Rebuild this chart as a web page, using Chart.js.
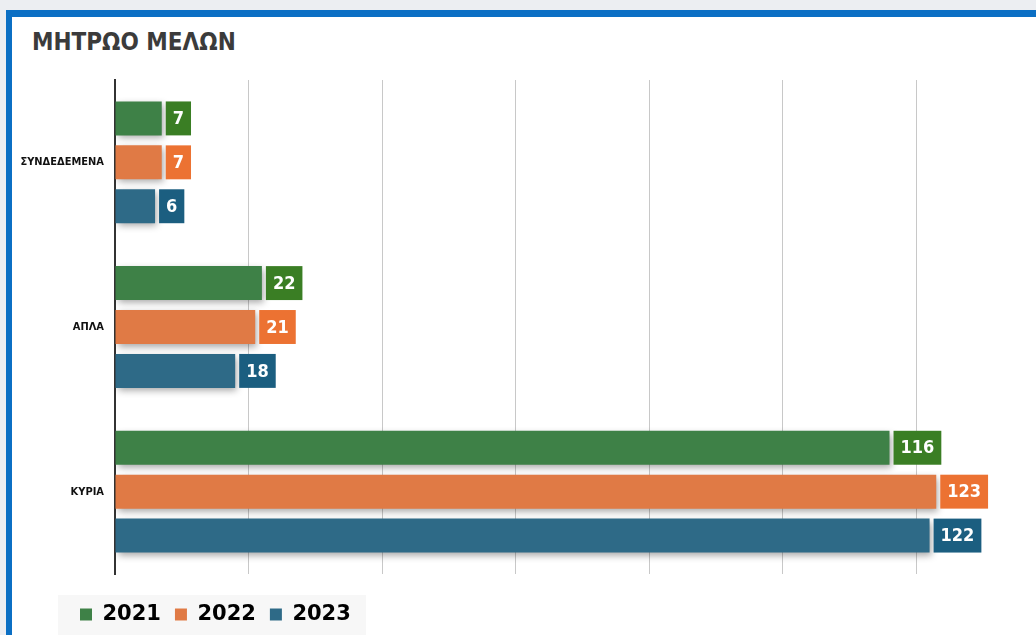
<!DOCTYPE html>
<html><head><meta charset="utf-8">
<script src="https://cdn.jsdelivr.net/npm/chart.js@4.4.0/dist/chart.umd.min.js"></script>
<style>
html,body{margin:0;padding:0;background:#eceef2;width:1036px;height:635px;overflow:hidden;}
#frame{position:absolute;left:6px;top:10px;width:1100px;height:700px;background:#fff;border-top:7px solid #0b6fc4;border-left:6px solid #0b6fc4;}
#title{position:absolute;left:32px;top:30px;font:bold 24px 'DejaVu Sans Condensed','DejaVu Sans';line-height:24px;color:#3b3b3b;margin:0;}
#c{position:absolute;left:0;top:0;}
</style></head><body>
<div id="frame"></div>
<h1 id="title">ΜΗΤΡΩΟ ΜΕΛΩΝ</h1>
<canvas id="c" width="1036" height="635"></canvas>
<script>
const categories = ['ΣΥΝΔΕΔΕΜΕΝΑ', 'ΑΠΛΑ', 'ΚΥΡΙΑ'];
const seriesNames = ['2021', '2022', '2023'];
const values2021 = [7, 22, 116];
const values2022 = [7, 21, 123];
const values2023 = [6, 18, 122];
const xTicks = [0, 20, 40, 60, 80, 100, 120];

const barColors = ['#3e8147', '#e07a45', '#2e6a87'];
const labelColors = ['#3a7e24', '#ec7232', '#1b5e80'];

const shadowAndLabels = {
  id: 'shadowAndLabels',
  afterLayout(chart) {
    chart.legend.left = 66;
  },
  beforeDraw(chart) {
    const ctx = chart.ctx;
    ctx.save();
    ctx.fillStyle = '#f7f7f7';
    ctx.fillRect(58, 595, 308, 40);
    ctx.restore();
  },
  beforeDatasetsDraw(chart) {
    const ctx = chart.ctx;
    ctx.save();
    ctx.shadowColor = 'rgba(0,0,0,0.35)';
    ctx.shadowBlur = 7;
    ctx.shadowOffsetX = 2;
    ctx.shadowOffsetY = 3;
  },
  afterDatasetsDraw(chart) {
    const ctx = chart.ctx;
    ctx.restore();
    ctx.save();
    chart.data.datasets.forEach((ds, i) => {
      const meta = chart.getDatasetMeta(i);
      meta.data.forEach((bar, j) => {
        const txt = String(ds.data[j]);
        ctx.font = 'bold 18px "DejaVu Sans Condensed", "DejaVu Sans"';
        const w = ctx.measureText(txt).width + 14;
        const h = bar.height;
        const x = bar.x + 4;
        ctx.fillStyle = labelColors[i];
        ctx.fillRect(x, bar.y - h / 2, w, h);
        ctx.fillStyle = '#ffffff';
        ctx.textAlign = 'center';
        ctx.textBaseline = 'middle';
        ctx.fillText(txt, x + w / 2, bar.y + 1);
      });
    });
    ctx.restore();
  }
};

const seriesValues = [values2021, values2022, values2023];

new Chart(document.getElementById('c'), {
  type: 'bar',
  data: {
    labels: categories,
    datasets: seriesNames.map((name, i) => ({
      label: name,
      data: seriesValues[i],
      backgroundColor: barColors[i],
      borderWidth: 0,
      categoryPercentage: 0.8,
      barPercentage: 0.773
    }))
  },
  options: {
    indexAxis: 'y',
    responsive: false,
    animation: false,
    font: { family: 'DejaVu Sans' },
    layout: { padding: { left: 0, top: 80, right: 53, bottom: 0 } },
    scales: {
      x: {
        min: 0, max: 130,
        ticks: { display: false, stepSize: 20 },
        afterBuildTicks: s => { s.ticks = xTicks.map(v => ({ value: v })); },
        grid: { color: '#c8c8c8', lineWidth: 1, drawTicks: false },
        border: { display: false },
        afterFit: s => { s.height = 16; }
      },
      y: {
        ticks: { color: '#111', font: { family: "'DejaVu Sans Condensed', 'DejaVu Sans'", size: 11, weight: 'bold' }, padding: 11 },
        grid: { display: false, drawTicks: false },
        border: { color: '#333', width: 2 },
        afterFit: s => { s.width = 115; }
      }
    },
    plugins: {
      title: { display: false },
      tooltip: { enabled: false },
      legend: {
        position: 'bottom',
        align: 'start',
        labels: {
          boxWidth: 12, boxHeight: 12, padding: 14, color: '#000',
          font: { family: 'DejaVu Sans', size: 21, weight: 'bold' }
        }
      }
    }
  },
  plugins: [shadowAndLabels]
});
</script>
</body></html>
